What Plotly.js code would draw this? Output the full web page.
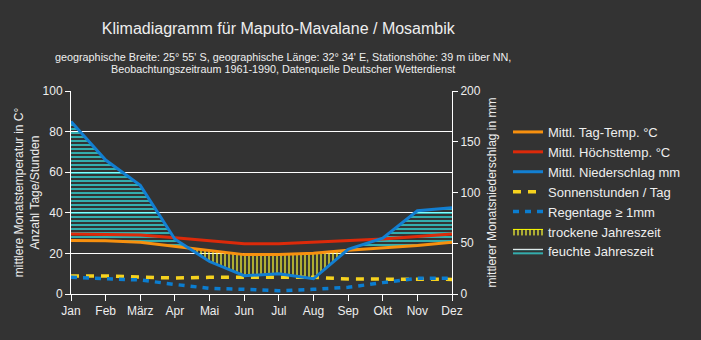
<!DOCTYPE html>
<html><head><meta charset="utf-8">
<script src="https://cdn.plot.ly/plotly-3.0.1.min.js"></script>
<style>html,body{margin:0;padding:0;background:#333333;} #chart{width:701px;height:340px;}</style>
</head><body><div id="chart"></div>
<script>
const months = ['Jan','Feb','März','Apr','Mai','Jun','Jul','Aug','Sep','Okt','Nov','Dez'];
const tagTemp = [26.3, 26.2, 25.5, 23.4, 21.4, 19.4, 19.4, 20.1, 21.6, 22.7, 23.9, 25.5];
const hoechstTemp = [29.6, 29.5, 29.1, 27.7, 26.2, 24.7, 24.7, 25.5, 26.3, 27.1, 28.3, 29.5];
const niederschlag = [170, 132, 107, 54, 32, 18, 20, 15, 44, 55, 82, 85];
const sonnenstunden = [8.9, 8.9, 8.3, 7.9, 8.2, 8.2, 8.5, 8.2, 7.4, 7.2, 7.2, 7.2];
const regentage = [8.2, 7.7, 6.9, 4.7, 2.8, 2.3, 1.6, 2.3, 3.3, 5.6, 7.7, 7.7];
const leftTicks = [0, 20, 40, 60, 80, 100];
const rightTicks = [0, 50, 100, 150, 200];

const xIdx = months.map((m, i) => i);
// precipitation expressed on the temperature scale (2 mm = 1 °C) for the season hatching
const pHalf = niederschlag.map(v => v / 2);

const bx = [], bT = [], wetHi = [], dryLo = [];
for (let i = 0; i < months.length; i++) {
  const d = pHalf[i] - tagTemp[i];
  bx.push(i); bT.push(tagTemp[i]);
  wetHi.push(Math.max(pHalf[i], tagTemp[i]));
  dryLo.push(Math.min(pHalf[i], tagTemp[i]));
  if (i < months.length - 1) {
    const d2 = pHalf[i + 1] - tagTemp[i + 1];
    if (d * d2 < 0) {
      const f = d / (d - d2);
      const y = tagTemp[i] + f * (tagTemp[i + 1] - tagTemp[i]);
      bx.push(i + f); bT.push(y); wetHi.push(y); dryLo.push(y);
    }
  }
}

const FONT = 'Liberation Sans, Arial, sans-serif';
const TXT = '#eeeeee';

const traces = [
  {x: bx, y: bT, mode: 'lines', line: {width: 0}, showlegend: false, hoverinfo: 'skip'},
  {x: bx, y: wetHi, mode: 'lines', fill: 'tonexty', fillcolor: 'rgba(0,0,0,0)',
   fillpattern: {shape: '-', fgcolor: '#33ffff', bgcolor: 'rgba(0,0,0,0)', size: 4, solidity: 0.3},
   line: {color: '#ffffff', width: 1}, name: 'feuchte Jahreszeit', legendrank: 7},
  {x: bx, y: dryLo, mode: 'lines', line: {width: 0}, showlegend: false, hoverinfo: 'skip'},
  {x: bx, y: bT, mode: 'lines', fill: 'tonexty', fillcolor: 'rgba(0,0,0,0)',
   fillpattern: {shape: '|', fgcolor: '#ffff33', bgcolor: 'rgba(0,0,0,0)', size: 4, solidity: 0.3},
   line: {color: '#ffff00', width: 1}, name: 'trockene Jahreszeit', legendrank: 6},
  {x: xIdx, y: tagTemp, mode: 'lines', line: {color: '#f7900f', width: 3}, name: 'Mittl. Tag-Temp. °C', legendrank: 1},
  {x: xIdx, y: hoechstTemp, mode: 'lines', line: {color: '#dc2a0a', width: 3}, name: 'Mittl. Höchsttemp. °C', legendrank: 2},
  {x: xIdx, y: niederschlag, yaxis: 'y2', mode: 'lines', line: {color: '#127fd2', width: 3}, name: 'Mittl. Niederschlag mm', legendrank: 3},
  {x: xIdx, y: sonnenstunden, mode: 'lines', line: {color: '#f6d21e', width: 3.5, dash: '8px,7px'}, name: 'Sonnenstunden / Tag', legendrank: 4},
  {x: xIdx, y: regentage, mode: 'lines', line: {color: '#0b7dd0', width: 3.5, dash: '6px,6px'}, name: 'Regentage ≥ 1mm', legendrank: 5}
];

const layout = {
  width: 701, height: 340,
  paper_bgcolor: '#333333', plot_bgcolor: 'rgba(0,0,0,0)',
  margin: {l: 71, r: 249, t: 91, b: 46},
  font: {family: FONT, color: TXT, size: 12},
  title: {text: 'Klimadiagramm für Maputo-Mavalane / Mosambik', font: {size: 16, color: TXT, family: FONT},
          x: 0.397, xanchor: 'center', y: 0.917, yanchor: 'middle', xref: 'container', yref: 'container'},
  showlegend: true,
  legend: {x: 1.147, xanchor: 'left', y: 0.872, yanchor: 'top', bgcolor: 'rgba(0,0,0,0)', traceorder: 'normal',
           font: {size: 13, color: TXT, family: FONT}, tracegroupgap: 0},
  xaxis: {range: [0, 11], tickvals: xIdx, ticktext: months, showgrid: false, zeroline: false,
          showline: true, linecolor: '#ffffff', linewidth: 1, ticks: 'outside', ticklen: 6, tickcolor: '#ffffff',
          tickfont: {size: 12, color: TXT}},
  yaxis: {range: [0, 100], tickvals: leftTicks, showgrid: true, gridcolor: '#ffffff', gridwidth: 1, zeroline: false,
          showline: true, linecolor: '#ffffff', ticks: 'outside', ticklen: 5, tickcolor: '#ffffff',
          tickfont: {size: 12, color: TXT},
          title: {text: 'mittlere Monatstemperatur in C°<br>Anzahl Tage/Stunden', font: {size: 12, color: TXT}, standoff: 0}},
  yaxis2: {range: [0, 200], tickvals: rightTicks, overlaying: 'y', side: 'right', showgrid: false, zeroline: false,
           showline: true, linecolor: '#ffffff', ticks: 'outside', ticklen: 5, tickcolor: '#ffffff',
           tickfont: {size: 12, color: TXT},
           title: {text: 'mittlerer Monatsniederschlag in mm', font: {size: 12, color: TXT}, standoff: 7}},
  annotations: [
    {text: 'geographische Breite: 25° 55\' S, geographische Länge: 32° 34\' E, Stationshöhe: 39 m über NN,',
     xref: 'paper', yref: 'paper', x: 0.5564, y: 1.169, xanchor: 'center', yanchor: 'middle', showarrow: false,
     font: {size: 10.8, color: TXT}},
    {text: 'Beobachtungszeitraum 1961-1990, Datenquelle Deutscher Wetterdienst',
     xref: 'paper', yref: 'paper', x: 0.5564, y: 1.107, xanchor: 'center', yanchor: 'middle', showarrow: false,
     font: {size: 10.8, color: TXT}}
  ]
};

Plotly.newPlot('chart', traces, layout, {displayModeBar: false, staticPlot: true});
</script>
</body></html>
